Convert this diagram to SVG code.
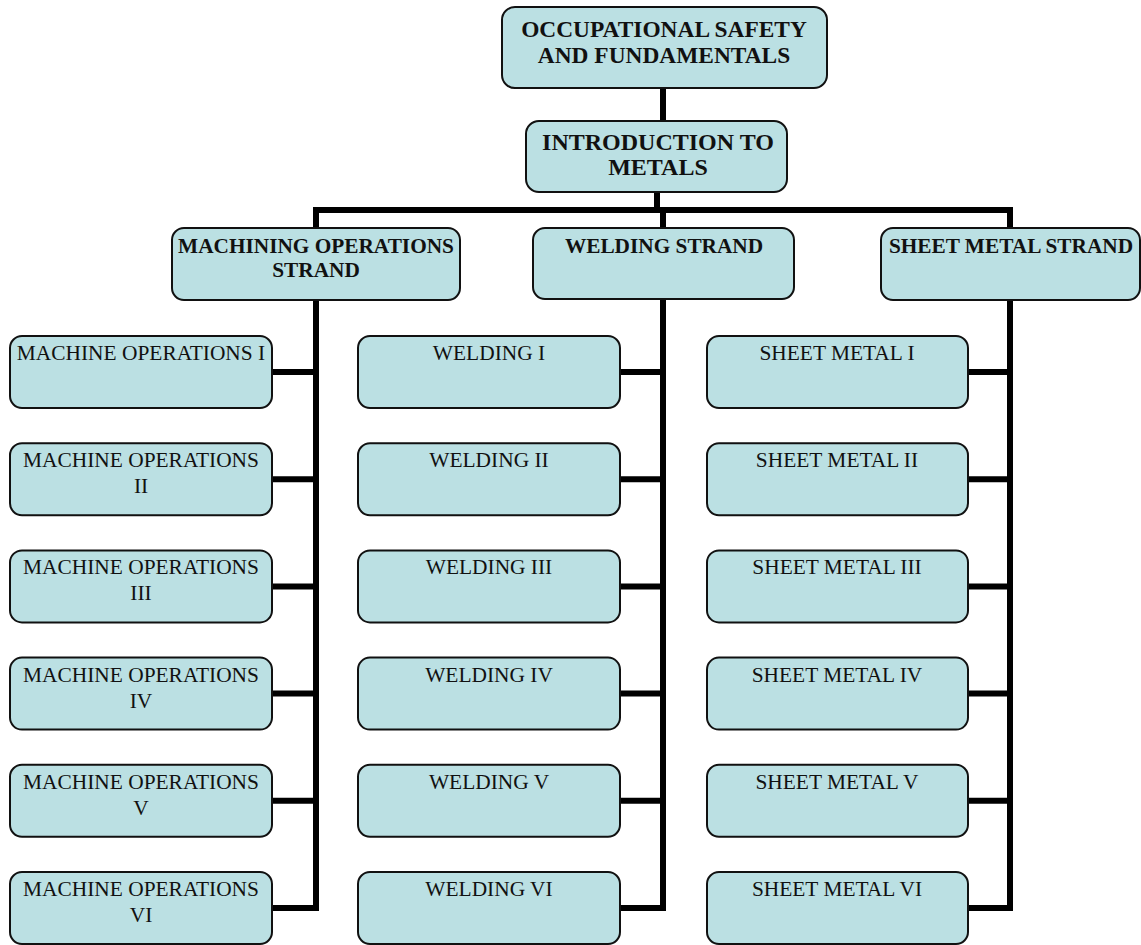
<svg xmlns="http://www.w3.org/2000/svg" width="1141" height="945" viewBox="0 0 1141 945">
<style>
.box{fill:#bbe0e3;stroke:#111;stroke-width:2}
.con{stroke:#000;stroke-width:6;fill:none}
text{font-family:"Liberation Serif","Times New Roman",serif;fill:#111;text-anchor:middle}
.b{font-weight:bold}
.t{font-size:23.4px}
.i{font-size:24px}
.s{font-size:21.3px}
.c{font-size:21.4px}
</style>
<rect width="1141" height="945" fill="#fff"/>
<g id="connectors">
<line class="con" x1="663" y1="88" x2="663" y2="122"/>
<line class="con" x1="657" y1="192" x2="657" y2="210"/>
<polyline class="con" points="316,228 316,210 1010,210 1010,228"/>
<line class="con" x1="663" y1="210" x2="663" y2="228"/>
<polyline class="con" points="316,300 316,908 272,908"/>
<polyline class="con" points="663,300 663,908 620,908"/>
<polyline class="con" points="1010,300 1010,908 968,908"/>
<line class="con" x1="272" y1="372" x2="316" y2="372"/>
<line class="con" x1="272" y1="479.2" x2="316" y2="479.2"/>
<line class="con" x1="272" y1="586.4" x2="316" y2="586.4"/>
<line class="con" x1="272" y1="693.6" x2="316" y2="693.6"/>
<line class="con" x1="272" y1="800.8" x2="316" y2="800.8"/>
<line class="con" x1="620" y1="372" x2="663" y2="372"/>
<line class="con" x1="620" y1="479.2" x2="663" y2="479.2"/>
<line class="con" x1="620" y1="586.4" x2="663" y2="586.4"/>
<line class="con" x1="620" y1="693.6" x2="663" y2="693.6"/>
<line class="con" x1="620" y1="800.8" x2="663" y2="800.8"/>
<line class="con" x1="968" y1="372" x2="1010" y2="372"/>
<line class="con" x1="968" y1="479.2" x2="1010" y2="479.2"/>
<line class="con" x1="968" y1="586.4" x2="1010" y2="586.4"/>
<line class="con" x1="968" y1="693.6" x2="1010" y2="693.6"/>
<line class="con" x1="968" y1="800.8" x2="1010" y2="800.8"/>
</g>
<g id="n-occupational">
<rect class="box" x="502" y="7" width="325" height="81" rx="13"/>
<text class="b t" x="664" y="37">OCCUPATIONAL SAFETY</text>
<text class="b t" x="664" y="63">AND FUNDAMENTALS</text>
</g>
<g id="n-intro">
<rect class="box" x="526" y="121" width="261" height="71" rx="13"/>
<text class="b i" x="658" y="150">INTRODUCTION TO</text>
<text class="b i" x="658" y="175">METALS</text>
</g>
<g id="n-machining-strand">
<rect class="box" x="172" y="228" width="288" height="72" rx="12"/>
<text class="b s" x="316" y="253">MACHINING OPERATIONS</text>
<text class="b s" x="316" y="277">STRAND</text>
</g>
<g id="n-welding-strand">
<rect class="box" x="533" y="228" width="261" height="71" rx="12"/>
<text class="b s" x="664" y="253">WELDING STRAND</text>
</g>
<g id="n-sheet-strand">
<rect class="box" x="881" y="228" width="259" height="72" rx="12"/>
<text class="b s" x="1011" y="253">SHEET METAL STRAND</text>
</g>
<g id="n-mo1"><rect class="box" x="10" y="336" width="262" height="72" rx="12"/><text class="c" x="141" y="360">MACHINE OPERATIONS I</text></g>
<g id="n-mo2"><rect class="box" x="10" y="443.2" width="262" height="72" rx="12"/><text class="c" x="141" y="467.2">MACHINE OPERATIONS</text><text class="c" x="141" y="493.2">II</text></g>
<g id="n-mo3"><rect class="box" x="10" y="550.4" width="262" height="72" rx="12"/><text class="c" x="141" y="574.4">MACHINE OPERATIONS</text><text class="c" x="141" y="600.4">III</text></g>
<g id="n-mo4"><rect class="box" x="10" y="657.6" width="262" height="72" rx="12"/><text class="c" x="141" y="681.6">MACHINE OPERATIONS</text><text class="c" x="141" y="707.6">IV</text></g>
<g id="n-mo5"><rect class="box" x="10" y="764.8" width="262" height="72" rx="12"/><text class="c" x="141" y="788.8">MACHINE OPERATIONS</text><text class="c" x="141" y="814.8">V</text></g>
<g id="n-mo6"><rect class="box" x="10" y="872" width="262" height="72" rx="12"/><text class="c" x="141" y="896">MACHINE OPERATIONS</text><text class="c" x="141" y="922">VI</text></g>
<g id="n-w1"><rect class="box" x="358" y="336" width="262" height="72" rx="12"/><text class="c" x="489" y="360">WELDING I</text></g>
<g id="n-w2"><rect class="box" x="358" y="443.2" width="262" height="72" rx="12"/><text class="c" x="489" y="467.2">WELDING II</text></g>
<g id="n-w3"><rect class="box" x="358" y="550.4" width="262" height="72" rx="12"/><text class="c" x="489" y="574.4">WELDING III</text></g>
<g id="n-w4"><rect class="box" x="358" y="657.6" width="262" height="72" rx="12"/><text class="c" x="489" y="681.6">WELDING IV</text></g>
<g id="n-w5"><rect class="box" x="358" y="764.8" width="262" height="72" rx="12"/><text class="c" x="489" y="788.8">WELDING V</text></g>
<g id="n-w6"><rect class="box" x="358" y="872" width="262" height="72" rx="12"/><text class="c" x="489" y="896">WELDING VI</text></g>
<g id="n-s1"><rect class="box" x="707" y="336" width="261" height="72" rx="12"/><text class="c" x="837" y="360">SHEET METAL I</text></g>
<g id="n-s2"><rect class="box" x="707" y="443.2" width="261" height="72" rx="12"/><text class="c" x="837" y="467.2">SHEET METAL II</text></g>
<g id="n-s3"><rect class="box" x="707" y="550.4" width="261" height="72" rx="12"/><text class="c" x="837" y="574.4">SHEET METAL III</text></g>
<g id="n-s4"><rect class="box" x="707" y="657.6" width="261" height="72" rx="12"/><text class="c" x="837" y="681.6">SHEET METAL IV</text></g>
<g id="n-s5"><rect class="box" x="707" y="764.8" width="261" height="72" rx="12"/><text class="c" x="837" y="788.8">SHEET METAL V</text></g>
<g id="n-s6"><rect class="box" x="707" y="872" width="261" height="72" rx="12"/><text class="c" x="837" y="896">SHEET METAL VI</text></g>
</svg>
